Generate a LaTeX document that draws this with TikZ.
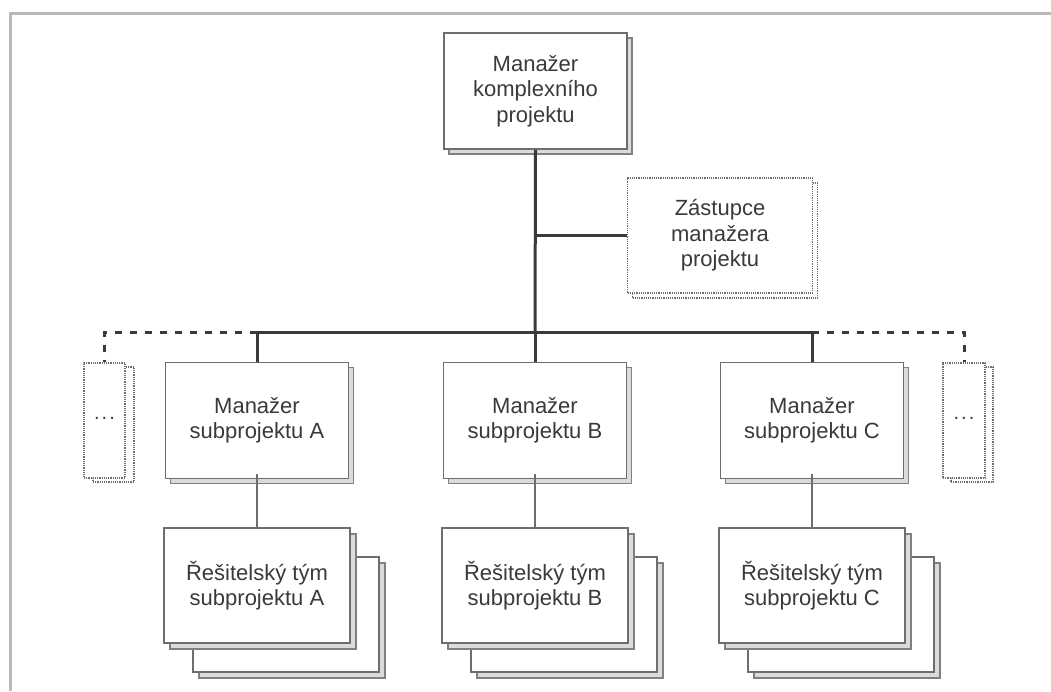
\documentclass[tikz,border=0pt]{standalone}
\usepackage{fontspec}
\setmainfont{Liberation Sans}
\begin{document}
\begin{tikzpicture}[x=1pt,y=-1pt,
  mainbox/.style={draw=boxc, line width=1.5pt, fill=white, minimum width=183pt, minimum height=116pt, inner sep=0pt, align=center, text=textc, font=\fontsize{22}{25.5}\selectfont},
  shadowbox/.style={draw=shc, line width=1.3pt, fill=gray!28, minimum width=183pt, minimum height=116pt, inner sep=0pt},
  dotbox/.style={draw=boxc, line width=1.2pt, densely dotted, fill=white, inner sep=0pt, align=center, text=textc, font=\fontsize{22}{25.5}\selectfont},
  dotshadow/.style={draw=boxc, line width=1.2pt, densely dotted, inner sep=0pt},
  trunk/.style={draw=linec, line width=3pt},
  thin/.style={draw=boxc, line width=1.6pt},
  dashline/.style={draw=linec, line width=3pt, dash pattern=on 7pt off 8pt},
  frame/.style={draw=gray!55, line width=3pt}]
\definecolor{boxc}{HTML}{6E6E6E}
\definecolor{shc}{HTML}{808080}
\definecolor{textc}{HTML}{3A3A3A}
\definecolor{linec}{HTML}{3A3A3A}
\useasboundingbox (0,0) rectangle (1051,691);
% frame
\draw[frame] (10,691) -- (10,13) -- (1051,13);
% top box
\node[shadowbox] at (540.5,96) {};
\node[mainbox] (top) at (535.5,91) {Manažer\\komplexního\\projektu};
% deputy box (dotted)
\node[dotshadow, minimum width=185pt, minimum height=115pt] at (725,240.5) {};
\node[dotbox, minimum width=185pt, minimum height=115pt] (dep) at (720,235.5) {Zástupce\\manažera\\projektu};
% subproject managers
\foreach \n/\x/\l in {A/257/A, B/535/B, C/812/C}{
  \node[shadowbox] at (\x+5,425.5) {};
  \node[mainbox] (m\n) at (\x,420.5) {Manažer\\subprojektu \l};
}
% small dotted boxes
\node[dotshadow, minimum width=41pt, minimum height=115pt] at (113.5,424.5) {};
\node[dotbox, minimum width=41pt, minimum height=115pt, font=\fontsize{20}{22}\selectfont] (sL) at (104.5,420.5) {\raisebox{0.35ex}{.\kern2pt.\kern2pt.}};
\node[dotshadow, minimum width=42pt, minimum height=115pt] at (972,424.5) {};
\node[dotbox, minimum width=42pt, minimum height=115pt, font=\fontsize{20}{22}\selectfont] (sR) at (964,420.5) {\raisebox{0.35ex}{.\kern2pt.\kern2pt.}};
% team stacks
\foreach \n/\x/\l in {A/257/A, B/535/B, C/812/C}{
  \node[shadowbox, minimum width=186pt, minimum height=115pt] at (\x+35,620.5) {};
  \node[mainbox, minimum width=186pt, minimum height=115pt] at (\x+29,614.5) {};
  \node[shadowbox, minimum width=186pt, minimum height=115pt] at (\x+6,591.5) {};
  \node[mainbox, minimum width=186pt, minimum height=115pt] (t\n) at (\x,585.5) {Řešitelský tým\\subprojektu \l};
}
% connectors
\coordinate (bar) at (535,332);
\coordinate (dj) at (535,235.5);
\draw[trunk] (top.south) -- (bar);
\draw[trunk] (dj) -- (dep.west);
\draw[trunk] (mA.north) |- (mC.north |- bar) -- (mC.north);
\draw[trunk] (bar) -- (mB.north);
\draw[dashline] (mA.north |- bar) -| (sL.north);
\draw[dashline] (mC.north |- bar) -| (sR.north);
\foreach \n in {A,B,C}{
  \draw[thin] ([yshift=5pt]m\n.south) -- (t\n.north);
}
\end{tikzpicture}
\end{document}
